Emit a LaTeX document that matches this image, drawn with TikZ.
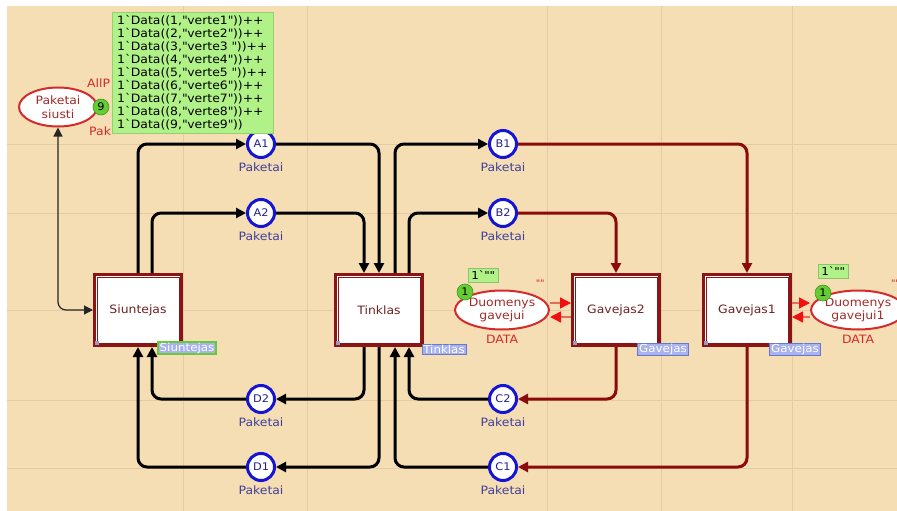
\documentclass[tikz,border=0pt]{standalone}
\usepackage{fontspec}
\setmainfont[FakeStretch=1.08]{DejaVu Sans}
\usetikzlibrary{arrows.meta,shapes.geometric}
\definecolor{bg}{HTML}{F5DDB4}
\definecolor{gridc}{HTML}{E4CBA3}
\definecolor{tred}{HTML}{8B1414}
\definecolor{ttext}{HTML}{6E2222}
\definecolor{pred}{HTML}{D42A2A}
\definecolor{ptext}{HTML}{A02C2C}
\definecolor{cblue}{HTML}{1414D2}
\definecolor{ctext}{HTML}{20208C}
\definecolor{lblue}{HTML}{40409C}
\definecolor{arcred}{HTML}{8B0A0A}
\definecolor{tokg}{HTML}{66CC33}
\definecolor{tokgd}{HTML}{3E9A1E}
\definecolor{boxg}{HTML}{B0F288}
\definecolor{tagfill}{HTML}{A8B2EE}
\definecolor{tagdraw}{HTML}{6A78CC}
\definecolor{lightred}{HTML}{E86A5A}
\definecolor{tipred}{HTML}{F01010}
\definecolor{cornerc}{HTML}{9A98C8}
\newcommand\myq{\textquotedbl}
\newcommand\mybt{\textasciigrave}
\begin{document}
\begin{tikzpicture}[x=1pt,y=-1pt,
  trans/.style={draw=tred, line width=3pt, fill=white, minimum width=87pt, minimum height=71pt, inner sep=0pt, text=ttext, font=\fontsize{11.5}{13}\selectfont},
  port/.style={circle, draw=cblue, line width=3pt, fill=white, minimum size=27pt, inner sep=0pt, text=ctext, font=\fontsize{10.5}{12}\selectfont,
     label={[text=lblue, font=\fontsize{11.5}{13}\selectfont, label distance=0pt]below:Paketai}},
  place/.style={ellipse, draw=pred, line width=2pt, fill=white, minimum width=78pt, minimum height=39pt, inner sep=0pt, text=ptext, align=center, font=\fontsize{11.5}{13.5}\selectfont},
  arc/.style={line width=3pt, draw=black, rounded corners=9pt, -{Triangle[length=10pt,width=10pt]}},
  rarc/.style={arc, draw=arcred, -{Triangle[length=10pt,width=10pt,color=arcred]}},
  thinarc/.style={line width=1.2pt, draw=black!85, rounded corners=8pt, {Triangle[length=9pt,width=9pt]}-{Triangle[length=9pt,width=9pt]}},
  redarc/.style={line width=1.4pt, draw=lightred, -{Triangle[length=11pt,width=11pt,color=tipred]}},
  token/.style={circle, fill=tokg, draw=tokgd, line width=0.6pt, minimum size=16pt, inner sep=0pt, font=\fontsize{10.5}{12}\selectfont},
  tokbox/.style={fill=boxg, draw=boxg!80!black, line width=0.4pt, inner xsep=3.5pt, inner ysep=2.5pt, font=\fontsize{11}{12}\selectfont},
  tag/.style={fill=tagfill, draw=tagdraw, line width=0.6pt, text=white, font=\fontsize{11}{12}\selectfont, inner xsep=1.5pt, inner ysep=0.8pt},
  redtxt/.style={text=pred, font=\fontsize{11.5}{13}\selectfont, inner sep=0pt}
]
\useasboundingbox (0,0) rectangle (897,511);
\fill[bg] (7,6) rectangle (897,511);
\foreach \x in {183,307,547,661,792} \draw[gridc, line width=1pt] (\x,6) -- (\x,511);
\foreach \y in {144,213,310,400,468} \draw[gridc, line width=1pt] (7,\y) -- (897,\y);

% transitions
\node[trans] (sie) at (138,310) {Siuntejas};
\node[trans] (tin) at (379,310) {Tinklas};
\node[trans] (g2) at (616,310) {Gavejas2};
\node[trans] (g1) at (747,310) {Gavejas1};
\foreach \t in {sie,tin,g2,g1}{
  \draw[tred, line width=0.8pt] ([shift={(4pt,-4pt)}]\t.north west) rectangle ([shift={(-4pt,4pt)}]\t.south east);
  \fill[cornerc] ([shift={(2pt,2pt)}]\t.south west) rectangle +(4pt,4pt);
}

% port places
\node[port] (A1) at (261,144) {A1};
\node[port] (A2) at (261,213) {A2};
\node[port] (B1) at (503,144) {B1};
\node[port] (B2) at (503,213) {B2};
\node[port] (D2) at (261,399) {D2};
\node[port] (D1) at (261,467) {D1};
\node[port] (C2) at (503,399) {C2};
\node[port] (C1) at (503,467) {C1};

% other places
\node[place] (ps) at (58,107) {Paketai\\siusti};
\node[place] (dg) at (502,310) {Duomenys\\gavejui};
\node[place] (dg1) at (858,310) {Duomenys\\gavejui1};

% arcs
\draw[thinarc] (ps.south) |- (sie.west);
\draw[arc] (sie.north) |- (A1);
\draw[arc] ([xshift=14pt]sie.north) |- (A2);
\draw[arc] (A1) -| (tin.north);
\draw[arc] (A2) -| ([xshift=-15pt]tin.north);
\draw[arc] ([xshift=16pt]tin.north) |- (B1);
\draw[arc] ([xshift=30pt]tin.north) |- (B2);
\draw[rarc] (B1) -| (g1.north);
\draw[rarc] (B2) -| (g2.north);
\draw[rarc] (g2.south) |- (C2);
\draw[rarc] (g1.south) |- (C1);
\draw[arc] (C2) -| ([xshift=30pt]tin.south);
\draw[arc] (C1) -| ([xshift=16pt]tin.south);
\draw[arc] ([xshift=-15pt]tin.south) |- (D2);
\draw[arc] (tin.south) |- (D1);
\draw[arc] (D2) -| ([xshift=14pt]sie.south);
\draw[arc] (D1) -| (sie.south);
\draw[redarc] ([yshift=7pt]dg.east) -- ([yshift=7pt]g2.west);
\draw[redarc] ([yshift=-7pt]g2.west) -- ([yshift=-7pt]dg.east);
\draw[redarc] ([yshift=7pt]g1.east) -- ([yshift=7pt]dg1.west);
\draw[redarc] ([yshift=-7pt]dg1.west) -- ([yshift=-7pt]g1.east);

% inscriptions
\node[redtxt, anchor=west] (allp) at (87,83) {AllP};
\node[redtxt, anchor=west] (pak) at (89,131) {Pak};
\node[redtxt] (data1) at (502,339) {DATA};
\node[redtxt] (data2) at (858,339) {DATA};
\node[text=pred, font=\fontsize{9}{10}\selectfont, inner sep=0pt] (ins1) at (540,283) {\myq\myq};
\node[text=pred, font=\fontsize{9}{10}\selectfont, inner sep=0pt, anchor=west] (ins2) at (891,283) {\myq\myq};

% tags
\node[tag, draw=tokg, line width=1.4pt] (tsie) at (187,348) {Siuntejas};
\node[tag] (ttin) at (444,349) {Tinklas};
\node[tag] (tg2) at (663,349) {Gavejas};
\node[tag] (tg1) at (795,349) {Gavejas};

% initial marking
\node[fill=boxg, draw=boxg!85!black, line width=0.4pt, anchor=north west, text width=151pt, align=left, inner xsep=5pt, inner ysep=3pt, font=\fontsize{11.5}{13}\selectfont] (init) at (112,12)
 {1\mybt Data((1,\myq verte1\myq))++\\
  1\mybt Data((2,\myq verte2\myq))++\\
  1\mybt Data((3,\myq verte3 \myq))++\\
  1\mybt Data((4,\myq verte4\myq))++\\
  1\mybt Data((5,\myq verte5 \myq))++\\
  1\mybt Data((6,\myq verte6\myq))++\\
  1\mybt Data((7,\myq verte7\myq))++\\
  1\mybt Data((8,\myq verte8\myq))++\\
  1\mybt Data((9,\myq verte9\myq))};

% tokens
\node[token] (tok9) at (101,107) {9};
\node[token] (tok1) at (465,292) {1};
\node[token] (tok2) at (823,293) {1};
\node[tokbox] (m1) at (483,275) {1\mybt\myq\myq};
\node[tokbox] (m2) at (833,271) {1\mybt\myq\myq};
\end{tikzpicture}
\end{document}
